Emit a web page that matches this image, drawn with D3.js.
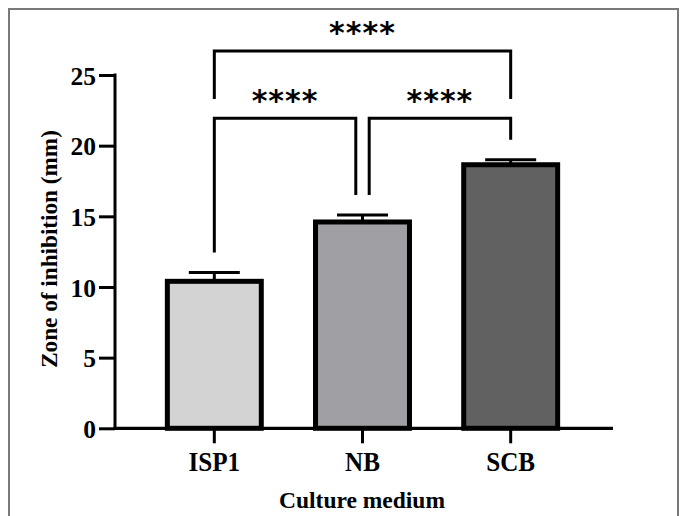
<!DOCTYPE html>
<html>
<head>
<meta charset="utf-8">
<script src="https://cdn.jsdelivr.net/npm/d3@7"></script>
<style>
  html, body { margin: 0; padding: 0; background: #fff; }
  svg { display: block; }
  .serif { font-family: "Liberation Serif", "Times New Roman", Times, "Nimbus Roman", "DejaVu Serif", serif; font-weight: bold; fill: #000; }
</style>
</head>
<body>
<svg id="chart" width="680" height="516"></svg>
<script>
// ---- data ----
const categories = ["ISP1", "NB", "SCB"];
const means = [10.4, 14.6, 18.65];
const errors = [0.62, 0.5, 0.35];
const fills = ["#d3d3d3", "#a0a0a4", "#616161"];
const yTicks = [0, 5, 10, 15, 20, 25];
const comparisons = [
  { a: 0, b: 2, label: "****", level: 0 },
  { a: 0, b: 1, label: "****", level: 1 },
  { a: 1, b: 2, label: "****", level: 1 }
];
const xTitle = "Culture medium";
const yTitle = "Zone of inhibition (mm)";

// ---- layout ----
const svg = d3.select("#chart");
const axisX = 115, axisY = 428.3, axisRight = 613, axisTop = 75;

const x = d3.scaleBand().domain(categories).range([114, 611])
  .paddingInner(0.366).paddingOuter(0.36);
const y = d3.scaleLinear().domain([0, 25]).range([axisY, axisTop]);

// frame
svg.append("path")
  .attr("d", "M9,516 L9,9 L678,9 L678,516")
  .attr("fill", "none").attr("stroke", "#7a7a7a").attr("stroke-width", 2);

// bars
const g = svg.append("g");
categories.forEach((c, i) => {
  const x0 = x(c), w = x.bandwidth(), cx = x0 + w / 2;
  g.append("line").attr("x1", cx).attr("x2", cx)
    .attr("y1", y(means[i])).attr("y2", y(means[i] + errors[i]))
    .attr("stroke", "#000").attr("stroke-width", 3);
  g.append("line").attr("x1", cx - 25.5).attr("x2", cx + 25.5)
    .attr("y1", y(means[i] + errors[i])).attr("y2", y(means[i] + errors[i]))
    .attr("stroke", "#000").attr("stroke-width", 3);
  g.append("rect")
    .attr("x", x0).attr("y", y(means[i]))
    .attr("width", w).attr("height", y(0) - y(means[i]))
    .attr("fill", fills[i]).attr("stroke", "#000").attr("stroke-width", 5);
});

// y axis
const yAxis = d3.axisLeft(y).tickValues(yTicks).tickSize(16).tickPadding(3);
const ya = svg.append("g").attr("transform", `translate(${axisX},0)`).call(yAxis);
ya.attr("font-family", null).attr("font-size", null);
ya.select(".domain").remove();
ya.selectAll(".tick line").attr("stroke", "#000").attr("stroke-width", 3);
ya.selectAll(".tick text").attr("class", "serif")
  .style("font-size", "25.5px").attr("dy", "0.36em");
svg.append("line").attr("x1", axisX).attr("x2", axisX)
  .attr("y1", axisTop - 1.5).attr("y2", axisY + 1.5)
  .attr("stroke", "#000").attr("stroke-width", 3);

// x axis
const xAxis = d3.axisBottom(x).tickSize(15).tickPadding(9);
const xa = svg.append("g").attr("transform", `translate(0,${axisY})`).call(xAxis);
xa.attr("font-family", null).attr("font-size", null);
xa.select(".domain").remove();
xa.selectAll(".tick line").attr("stroke", "#000").attr("stroke-width", 3);
xa.selectAll(".tick text").attr("class", "serif")
  .style("font-size", "27px").attr("dy", "0.71em")
  .attr("transform", "scale(0.93,1)");
svg.append("line").attr("x1", axisX - 1.5).attr("x2", axisRight)
  .attr("y1", axisY).attr("y2", axisY)
  .attr("stroke", "#000").attr("stroke-width", 3.3);

// titles
svg.append("text").attr("class", "serif").attr("x", 362).attr("y", 508)
  .attr("text-anchor", "middle").style("font-size", "23.5px").text(xTitle);
svg.append("text").attr("class", "serif")
  .attr("transform", "translate(57,249) rotate(-90)")
  .attr("text-anchor", "middle").style("font-size", "23.2px").text(yTitle);

// significance brackets
const gap = 20;
const topLevelY = [51, 118.3];
const topLegEnd = 99;
const nbOffset = 6.7;
comparisons.forEach(cmp => {
  const ca = x(categories[cmp.a]) + x.bandwidth() / 2;
  const cb = x(categories[cmp.b]) + x.bandwidth() / 2;
  const xa1 = cmp.level === 1 && cmp.a === 1 ? ca + nbOffset : ca;
  const xb1 = cmp.level === 1 && cmp.b === 1 ? cb - nbOffset : cb;
  const hy = topLevelY[cmp.level];
  let ya1, yb1;
  if (cmp.level === 0) { ya1 = topLegEnd; yb1 = topLegEnd; }
  else {
    ya1 = y(means[cmp.a] + errors[cmp.a]) - gap;
    yb1 = y(means[cmp.b] + errors[cmp.b]) - gap;
  }
  svg.append("path")
    .attr("d", `M${xa1},${ya1} L${xa1},${hy} L${xb1},${hy} L${xb1},${yb1}`)
    .attr("fill", "none").attr("stroke", "#000").attr("stroke-width", 3);
  svg.append("text")
    .attr("x", (xa1 + xb1) / 2).attr("y", hy - (cmp.level === 0 ? 8 : 7))
    .attr("text-anchor", "middle")
    .style("font-family", "'DejaVu Sans', sans-serif")
    .style("font-weight", "bold").style("font-size", "30px")
    .attr("letter-spacing", 1)
    .text(cmp.label);
});
</script>
</body>
</html>
